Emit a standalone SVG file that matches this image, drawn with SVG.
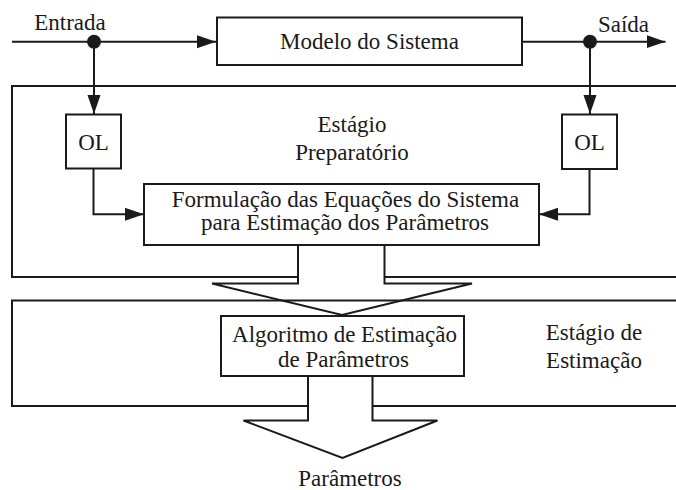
<svg xmlns="http://www.w3.org/2000/svg" width="676" height="490" viewBox="0 0 676 490">
<style>
  .box { fill: #ffffff; stroke: #1a1a1a; stroke-width: 2; }
  .stage { fill: none; stroke: #1a1a1a; stroke-width: 2; }
  .line { fill: none; stroke: #1a1a1a; stroke-width: 2; }
  .big { fill: #ffffff; stroke: #1a1a1a; stroke-width: 2; stroke-linejoin: miter; }
  .dot { fill: #1a1a1a; }
  .t { font-family: 'Liberation Serif', 'Times New Roman', serif; font-size: 23px; fill: #1a1a1a; text-anchor: middle; }
</style>
<defs>
  <marker id="arrow" markerUnits="userSpaceOnUse" markerWidth="20" markerHeight="14" refX="19" refY="6.5" orient="auto">
    <path d="M0,0 L19,6.5 L0,13 Z" fill="#1a1a1a"/>
  </marker>
</defs>
<rect width="676" height="490" fill="#ffffff"/>

<g id="prep-stage">
  <rect class="stage" x="12" y="86" width="700" height="191"/>
  <text class="t" x="352" y="131.5">Estágio</text>
  <text class="t" x="352" y="160">Preparatório</text>
</g>

<g id="big-arrows">
  <polygon class="big" points="298,245 298,283.5 212,283.5 342,315 472,283.5 384.5,283.5 384.5,245"/>
</g>

<g id="est-stage">
  <rect class="stage" x="12" y="300.5" width="700" height="105.5"/>
  <text class="t" x="594" y="340">Estágio de</text>
  <text class="t" x="594" y="368">Estimação</text>
</g>

<g id="big-arrow-out">
  <polygon class="big" points="308,376 308,420.5 243.5,420.5 342.5,458 437.5,420.5 372.5,420.5 372.5,376"/>
</g>

<g id="model">
  <rect class="box" x="217" y="17.5" width="305" height="47.5"/>
  <text class="t" x="369.5" y="49">Modelo do Sistema</text>
</g>

<g id="ol-left">
  <rect class="box" x="66" y="114.5" width="55" height="54"/>
  <text class="t" x="93.5" y="149.5">OL</text>
</g>

<g id="ol-right">
  <rect class="box" x="562" y="114.5" width="55" height="54.5"/>
  <text class="t" x="589.5" y="149.5">OL</text>
</g>

<g id="formulation">
  <rect class="box" x="144" y="184" width="395" height="61"/>
  <text class="t" x="345.5" y="207">Formulação das Equações do Sistema</text>
  <text class="t" x="345" y="230">para Estimação dos Parâmetros</text>
</g>

<g id="algorithm">
  <rect class="box" x="221" y="316" width="243" height="60"/>
  <text class="t" x="344.5" y="341.5">Algoritmo de Estimação</text>
  <text class="t" x="343.5" y="366.5">de Parâmetros</text>
</g>

<g id="labels">
  <text class="t" x="70" y="30">Entrada</text>
  <text class="t" x="623.5" y="31.5">Saída</text>
  <text class="t" x="350" y="486">Parâmetros</text>
</g>

<g id="connectors">
  <line class="line" x1="12" y1="41.7" x2="216" y2="41.7" marker-end="url(#arrow)"/>
  <line class="line" x1="522" y1="41.7" x2="665.5" y2="41.7" marker-end="url(#arrow)"/>
  <line class="line" x1="94" y1="41.7" x2="94" y2="114" marker-end="url(#arrow)"/>
  <line class="line" x1="590" y1="41.7" x2="590" y2="114" marker-end="url(#arrow)"/>
  <polyline class="line" points="93.5,168.5 93.5,214.3 144,214.3" marker-end="url(#arrow)"/>
  <polyline class="line" points="589.5,169 589.5,214.3 539,214.3" marker-end="url(#arrow)"/>
  <circle class="dot" cx="94" cy="41.7" r="7"/>
  <circle class="dot" cx="590" cy="41.7" r="7"/>
</g>
</svg>
